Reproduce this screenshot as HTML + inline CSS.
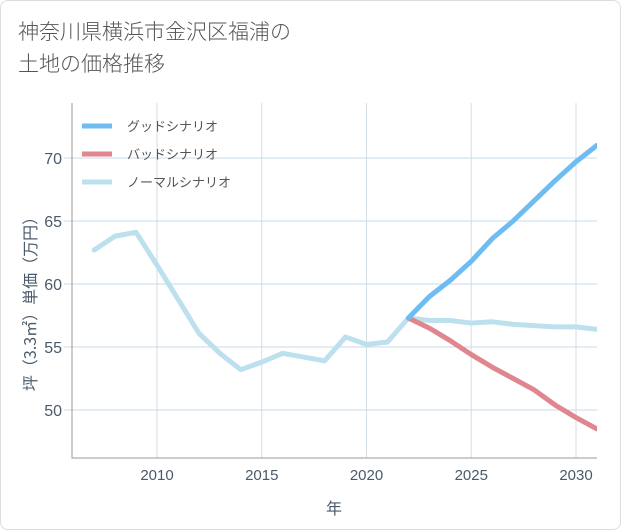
<!DOCTYPE html>
<html><head><meta charset="utf-8">
<style>
body{margin:0;background:#fff;}
#wrap{position:relative;width:619px;height:528px;border:1px solid #ddd;border-radius:8px;background:#fff;overflow:hidden;font-family:"Liberation Sans","Noto Sans CJK JP",sans-serif;}
#title{position:absolute;left:17px;top:14px;font-size:21px;line-height:32px;color:#555;font-family:"Noto Sans CJK JP",sans-serif;font-weight:300;}
</style></head><body>
<div id="wrap">
<div id="title">神奈川県横浜市金沢区福浦の<br>土地の価格推移</div>
<svg id="chart" width="621" height="530" style="position:absolute;left:-1px;top:-1px"></svg>
</div>
<script>
const years=[2007,2008,2009,2010,2011,2012,2013,2014,2015,2016,2017,2018,2019,2020,2021,2022,2023,2024,2025,2026,2027,2028,2029,2030,2031];
const normal=[62.7,63.8,64.1,61.5,58.8,56.1,54.5,53.2,53.8,54.5,54.2,53.9,55.8,55.2,55.4,57.3,57.1,57.1,56.9,57.0,56.8,56.7,56.6,56.6,56.4];
const goodYears=[2022,2023,2024,2025,2026,2027,2028,2029,2030,2031];
const good=[57.3,59.0,60.3,61.8,63.6,65.0,66.6,68.2,69.7,71.0];
const bad=[57.3,56.5,55.5,54.4,53.4,52.5,51.6,50.4,49.4,48.5];
const xTicks=[2010,2015,2020,2025,2030];
const yTicks=[50,55,60,65,70];
const L=72,R=597,T=103,B=458;
const x=y=>157+(y-2010)*(576-157)/20;
const yv=v=>410-(v-50)*(410-158)/20;
const NS="http://www.w3.org/2000/svg";
const svg=document.getElementById('chart');
function mk(tag,attrs,parent){const e=document.createElementNS(NS,tag);for(const k in attrs)e.setAttribute(k,attrs[k]);(parent||svg).appendChild(e);return e;}
const grid=mk('g',{});


xTicks.forEach(t=>{
 const l=mk('line',{x1:x(t),x2:x(t),y1:T,y2:B,stroke:'#d5dde5','stroke-width':1},grid);
 
 
 const tx=mk('text',{x:x(t),y:B+22,'text-anchor':'middle','font-size':15,fill:'#4a5a6a'});
 
 
 tx.textContent=t;
});
yTicks.forEach(t=>{
 const l=mk('line',{x1:L-8,x2:R,y1:yv(t),y2:yv(t),stroke:'#c8dbe8','stroke-width':1},grid);
 
 
 const tx=mk('text',{x:L-10,y:yv(t)+6,'text-anchor':'end','font-size':16,fill:'#4a5a6a'});
 
 
 tx.textContent=t;
});
const ax=mk('path',{d:`M${L},${T}V${B}H${R}`,fill:'none',stroke:'#999','stroke-width':1});


function line(xs,vs,color,name){
 const p=mk('path',{d:xs.map((a,i)=>(i?'L':'M')+x(a)+','+yv(vs[i])).join(''),fill:'none',stroke:color,'stroke-width':5,'stroke-linejoin':'round','stroke-linecap':'round'});
 
 
}
const clip=mk('clipPath',{id:'cp'});mk('rect',{x:L,y:T,width:R-L,height:B-T},clip);
line(years,normal,'#bde0ee','normal-scenario-line');
line(goodYears,bad,'#e0868e','bad-scenario-line');
line(goodYears,good,'#6ebcf2','good-scenario-line');
svg.querySelectorAll('path[stroke-width="5"]').forEach(p=>p.setAttribute('clip-path','url(#cp)'));
const legend=[['グッドシナリオ','#6ebcf2',126],['バッドシナリオ','#e0868e',154],['ノーマルシナリオ','#bde0ee',182]];
legend.forEach(([t,c,yy])=>{
 const g=mk('g',{});
 
 
 mk('line',{x1:82,x2:112,y1:yy,y2:yy,stroke:c,'stroke-width':5},g);
 const tx=mk('text',{x:127,y:yy+5,'font-size':13,fill:'#555','font-family':'Noto Sans CJK JP,sans-serif'},g);
 tx.textContent=t;
});
const xt=mk('text',{x:334,y:514,'text-anchor':'middle','font-size':16,fill:'#4a5a6a','font-family':'Noto Sans CJK JP,sans-serif'});


xt.textContent='年';
const yt=mk('text',{x:0,y:0,'text-anchor':'middle','font-size':16,fill:'#4a5a6a','font-family':'Noto Sans CJK JP,sans-serif',transform:'translate(36,300) rotate(-90)'});


yt.textContent='坪（3.3㎡）単価（万円）';
</script>
</body></html>
